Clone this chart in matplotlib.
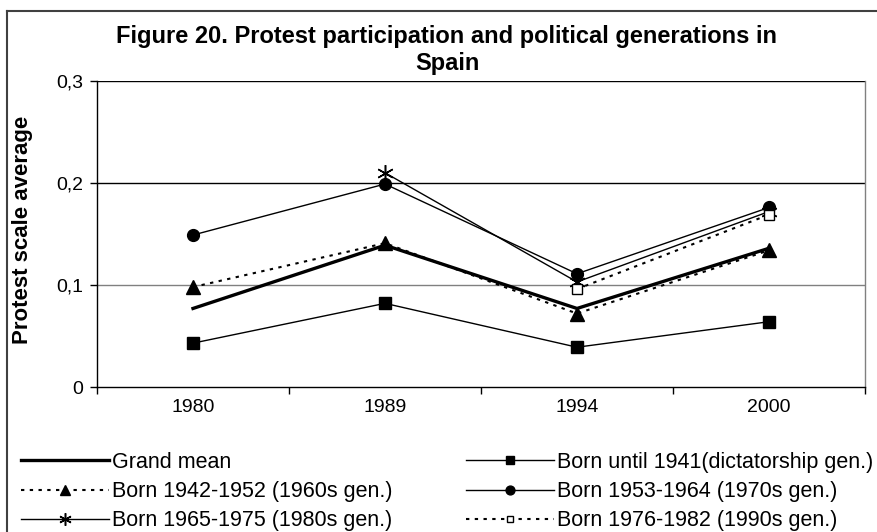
import numpy as np
import matplotlib as mpl
mpl.use('Agg')
from matplotlib import pyplot as plt
from matplotlib.lines import Line2D

mpl.rc('font', **{'family': 'sans-serif', 'sans-serif': ['Liberation Sans', 'DejaVu Sans'], 'size': 10})

##########################################################################################
# data
years = ['1980', '1989', '1994', '2000']

grand_mean = [0.077, 0.139, 0.077, 0.136]
born_until_1941 = [0.043, 0.082, 0.039, 0.064]
born_1942_1952 = [0.098, 0.141, 0.072, 0.134]
born_1953_1964 = [0.149, 0.199, 0.111, 0.176]
born_1965_1975 = [np.nan, 0.210, 0.103, 0.172]
born_1976_1982 = [np.nan, np.nan, 0.096, 0.169]

labels = ['Grand mean',
          'Born until 1941(dictatorship gen.)',
          'Born 1942-1952 (1960s gen.)',
          'Born 1953-1964 (1970s gen.)',
          'Born 1965-1975 (1980s gen.)',
          'Born 1976-1982 (1990s gen.)']

yticks = [0.0, 0.1, 0.2, 0.3]
yticklabels = ['0', '0,1', '0,2', '0,3']

##########################################################################################
W, H = 878, 532
f = plt.figure(figsize=(W / 100.0, H / 100.0), dpi=100)
ax = f.add_axes([97.0 / W, 1 - 387.0 / H, (865.0 - 97.0) / W, (387.0 - 81.0) / H])

x = np.arange(len(years))
dotted = (0, (1.6, 2.6))

lines = []
lines.append(ax.plot(x, grand_mean, color='k', lw=2.4, zorder=3)[0])
lines.append(ax.plot(x, born_until_1941, color='k', lw=1.0, marker='s', ms=8.5,
                     mfc='k', mec='k', zorder=4)[0])
lines.append(ax.plot(x, born_1942_1952, color='k', lw=1.5, ls=dotted, marker='^', ms=9.5,
                     mfc='k', mec='k', zorder=4)[0])
lines.append(ax.plot(x, born_1953_1964, color='k', lw=1.0, marker='o', ms=8.5,
                     mfc='k', mec='k', zorder=4)[0])
lines.append(ax.plot(x, born_1965_1975, color='k', lw=1.0, marker=(6, 2, 0), ms=12,
                     mew=1.1, zorder=4)[0])
lines.append(ax.plot(x, born_1976_1982, color='k', lw=1.5, ls=dotted, marker='s', ms=6.5,
                     mfc='white', mec='k', mew=1.0, zorder=5)[0])

##########################################################################################
# axes layout
tickfontsize = 14.0
ax.set_xlim(-0.5, 3.5)
ax.set_ylim(0.0, 0.3)
ax.set_xticks(x)
ax.set_xticklabels(years, fontsize=tickfontsize)
ax.set_xticks(np.arange(-0.5, 4.0, 1.0), minor=True)
ax.tick_params(axis='x', which='major', length=0, pad=9)
ax.tick_params(axis='x', which='minor', length=5, width=1.0, direction='out')
ax.set_yticks(yticks)
ax.set_yticklabels(yticklabels, fontsize=tickfontsize)
ax.tick_params(axis='y', length=5, width=1.0, direction='out', pad=5)

ax.spines['top'].set_visible(False)
ax.spines['right'].set_color('#808080')
ax.spines['left'].set_linewidth(1.0)
ax.spines['bottom'].set_linewidth(1.0)
ax.spines['right'].set_linewidth(1.0)

for yv, c in zip([0.1, 0.2, 0.3], ['#808080', 'k', 'k']):
    ax.axhline(yv, color=c, lw=1.0, zorder=1)

# y label placed in figure coordinates
f.text(23.0 / W, 1 - 230.0 / H, 'Protest scale average', rotation=90,
       ha='center', va='center', fontsize=16, fontweight='bold')

##########################################################################################
# title
f.text(447.0 / W, 1 - 50.0 / H,
       'Figure 20. Protest participation and political generations in\nSpain',
       ha='center', va='center', multialignment='center', fontsize=17,
       fontweight='bold', linespacing=1.22)

##########################################################################################
# legend, two columns drawn as two legends
order1 = [0, 2, 4]
order2 = [1, 3, 5]
legKw = dict(frameon=False, fontsize=15.5, handlelength=4.1, handletextpad=0.12,
             labelspacing=0.38, numpoints=1, markerscale=0.75, borderpad=0.0,
             borderaxespad=0.0, loc='upper left')
leg1 = f.legend([lines[i] for i in order1], [labels[i] for i in order1],
                bbox_to_anchor=(21.0 / W, 1 - 452.0 / H), **legKw)
leg2 = f.legend([lines[i] for i in order2], [labels[i] for i in order2],
                bbox_to_anchor=(466.0 / W, 1 - 452.0 / H), **legKw)

##########################################################################################
# chart area border (only top and left edges are visible)
f.add_artist(Line2D([7.0 / W, 1.0], [1 - 11.0 / H, 1 - 11.0 / H], color='#404040',
                    lw=1.5, transform=f.transFigure))
f.add_artist(Line2D([7.0 / W, 7.0 / W], [0.0, 1 - 11.0 / H], color='#404040',
                    lw=1.5, transform=f.transFigure))

f.savefig('out.png', dpi=100)
plt.close()
